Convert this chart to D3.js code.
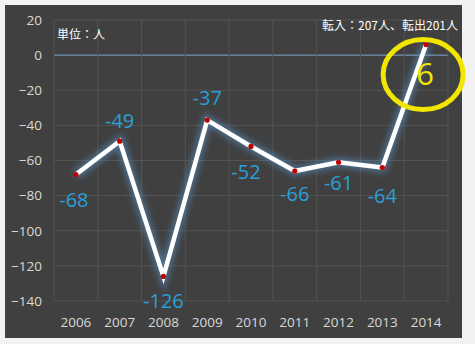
<!DOCTYPE html>
<html>
<head>
<meta charset="utf-8">
<script src="https://cdn.jsdelivr.net/npm/d3@7"></script>
<style>
  body { margin: 0; background: #f2f2f2; }
  svg { display: block; }
</style>
</head>
<body>
<div id="container"></div>
<script>
/***** data *****/
const years = ["2006", "2007", "2008", "2009", "2010", "2011", "2012", "2013", "2014"];
const values = [-68, -49, -126, -37, -52, -66, -61, -64, 6];
const yTicks = [20, 0, -20, -40, -60, -80, -100, -120, -140];
// label placement per point: [dx, dy]
const labelOffsets = [[-2, 27], [0, -19], [0, 26], [0, -20], [-5, 27], [0, 25], [0, 22], [0, 30], [0, 0]];

const W = 475, H = 344;
const margin = {top: 20, right: 27, bottom: 43, left: 54};
const width = W - margin.left - margin.right,
      height = H - margin.top - margin.bottom;

const svg = d3.select("#container")
  .append("svg")
    .attr("width", W)
    .attr("height", H);

// outer panel
svg.append("rect")
  .attr("x", 5).attr("y", 5)
  .attr("width", 457).attr("height", 333)
  .attr("fill", "#404040");

const defs = svg.append("defs");
const glow = defs.append("filter").attr("id", "glow")
  .attr("x", "-20%").attr("y", "-20%").attr("width", "140%").attr("height", "140%");
glow.append("feGaussianBlur").attr("stdDeviation", 3);

const viz = svg.append("g")
  .attr("transform", "translate(" + margin.left + "," + margin.top + ")");

// scales
const x = d3.scaleBand()
  .domain(years)
  .range([0, width]);

const y = d3.scaleLinear()
  .domain([-140, 20])
  .range([281, 0]);

// grid lines
viz.append("g")
  .selectAll("line")
  .data(yTicks)
  .join("line")
    .attr("x1", 0).attr("x2", width)
    .attr("y1", d => y(d)).attr("y2", d => y(d))
    .attr("stroke", d => d === 0 ? "#7fa8cf" : "#535353")
    .attr("stroke-width", 1);

viz.append("g")
  .selectAll("line")
  .data(years.concat(["end"]))
  .join("line")
    .attr("x1", (d, i) => i * x.step()).attr("x2", (d, i) => i * x.step())
    .attr("y1", y(20)).attr("y2", y(-140))
    .attr("stroke", "#535353")
    .attr("stroke-width", 1);

// Y axis
const yAxis = viz.append("g")
  .call(d3.axisLeft(y).tickValues(yTicks).tickSize(0).tickPadding(12));
yAxis.select(".domain").remove();
yAxis.selectAll("text")
  .attr("fill", "#d9d9d9")
  .attr("font-size", 13.5)
  .attr("font-family", "'Open Sans', 'Noto Sans', sans-serif");

// X axis
const xAxis = viz.append("g")
  .attr("transform", "translate(0," + y(-140) + ")")
  .call(d3.axisBottom(x).tickSize(0).tickPadding(16));
xAxis.select(".domain").remove();
xAxis.selectAll("text")
  .attr("fill", "#d9d9d9")
  .attr("font-size", 13.5)
  .attr("font-family", "'Open Sans', 'Noto Sans', sans-serif");

// line
const line = d3.line()
  .x((d, i) => x(years[i]) + x.bandwidth() / 2)
  .y(d => y(d));

viz.append("path")
  .datum(values)
  .attr("fill", "none")
  .attr("stroke", "#5b9bd5")
  .attr("stroke-width", 9)
  .attr("stroke-opacity", 0.55)
  .attr("filter", "url(#glow)")
  .attr("d", line);

viz.append("path")
  .datum(values)
  .attr("fill", "none")
  .attr("stroke", "#ffffff")
  .attr("stroke-width", 4.5)
  .attr("stroke-linejoin", "miter")
  .attr("d", line);

// points
viz.append("g")
  .selectAll("circle")
  .data(values)
  .join("circle")
    .attr("cx", (d, i) => x(years[i]) + x.bandwidth() / 2)
    .attr("cy", d => y(d))
    .attr("r", 2.6)
    .attr("fill", "#c00000");

// data labels
viz.append("g")
  .selectAll("text")
  .data(values.slice(0, 8))
  .join("text")
    .attr("x", (d, i) => x(years[i]) + x.bandwidth() / 2 + labelOffsets[i][0])
    .attr("y", (d, i) => y(d) + labelOffsets[i][1])
    .attr("text-anchor", "middle")
    .attr("dominant-baseline", "middle")
    .attr("fill", "#2a9fd8")
    .attr("font-size", 20)
    .attr("font-family", "'Open Sans', 'Noto Sans', sans-serif")
    .text(d => d);

// highlight last value
const last = values.length - 1;
const lx = x(years[last]) + x.bandwidth() / 2 - 3;
const ly = y(values[last]) + 30;
viz.append("ellipse")
  .attr("cx", lx).attr("cy", ly)
  .attr("rx", 40).attr("ry", 35)
  .attr("fill", "none")
  .attr("stroke", "#f2e600")
  .attr("stroke-width", 5);
viz.append("text")
  .attr("x", lx + 2).attr("y", ly + 2)
  .attr("text-anchor", "middle")
  .attr("dominant-baseline", "middle")
  .attr("fill", "#f2e600")
  .attr("font-size", 31)
  .attr("font-family", "'Open Sans', 'Noto Sans', sans-serif")
  .text(values[last]);

// notes
svg.append("text")
  .attr("x", 57).attr("y", 39)
  .attr("fill", "#ffffff")
  .attr("font-size", 12)
  .attr("font-family", "'Noto Sans CJK JP', sans-serif")
  .text("単位：人");

svg.append("text")
  .attr("x", 458).attr("y", 30)
  .attr("text-anchor", "end")
  .attr("fill", "#ffffff")
  .attr("font-size", 12)
  .attr("font-family", "'Noto Sans CJK JP', sans-serif")
  .text("転入：207人、転出201人");
</script>
</body>
</html>
